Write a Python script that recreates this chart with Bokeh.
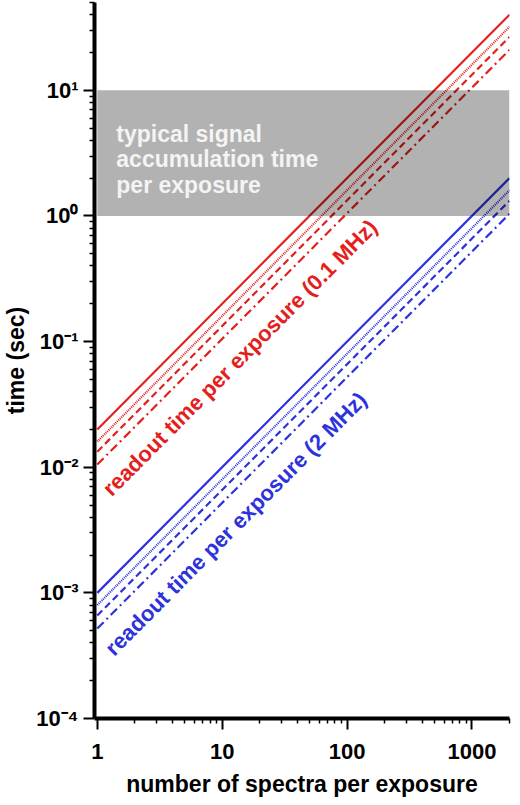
import math
from bokeh.plotting import figure
from bokeh.models import Range1d, FixedTicker
from bokeh.core.properties import value
from bokeh.embed import file_html
from bokeh.resources import INLINE

# ---- data ----
n_spectra = [1, 2000]                      # number of spectra per exposure (x endpoints)
red_solid = [0.02, 40.0]                   # readout time, 0.1 MHz
red_dotted = [0.016, 32.0]
red_dashed = [0.0133, 26.6]
red_dashdot = [0.0105, 21.0]
blue_solid = [0.001, 2.0]                  # readout time, 2 MHz
blue_dotted = [0.0008, 1.6]
blue_dashed = [0.00066, 1.32]
blue_dashdot = [0.00052, 1.04]

band_x = [1, 2000]                         # typical signal accumulation band
band_y = [1, 10]

x_ticks = [1, 10, 100, 1000]
x_labels = ["1", "10", "100", "1000"]
y_ticks = [1e-4, 1e-3, 1e-2, 1e-1, 1, 10]
y_labels = ["10\u207b\u2074", "10\u207b\u00b3", "10\u207b\u00b2", "10\u207b\u00b9", "10\u2070", "10\u00b9"]

band_text = ["typical signal", "accumulation time", "per exposure"]
red_label = "readout time per exposure (0.1 MHz)"
blue_label = "readout time per exposure (2 MHz)"

RED = "#e3201c"
BLUE = "#2c32dc"
FONT = "Liberation Sans"

X0, X1 = 0.95, 2000
Y0, Y1 = 1e-4, 50
FW, FH = 415, 716
angle = math.degrees(math.atan((FH / math.log10(Y1 / Y0)) / (FW / math.log10(X1 / X0))))

p = figure(frame_width=FW, frame_height=FH, x_axis_type="log", y_axis_type="log",
           x_range=Range1d(X0, X1), y_range=Range1d(Y0, Y1),
           output_backend="svg", toolbar_location=None,
           min_border_left=87, min_border_right=2, min_border_top=2, min_border_bottom=86)
p.outline_line_color = None
p.grid.visible = False
p.background_fill_color = "white"

styles = [None, "1 1", "7 4", "9 4 2 4"]
for ys, dash in zip([red_solid, red_dotted, red_dashed, red_dashdot], styles):
    p.line(n_spectra, ys, line_color=RED, line_width=2.2,
           line_dash=dash if dash else "solid")
for ys, dash in zip([blue_solid, blue_dotted, blue_dashed, blue_dashdot], styles):
    p.line(n_spectra, ys, line_color=BLUE, line_width=2.2,
           line_dash=dash if dash else "solid")

# translucent band on top of the lines
p.quad(left=band_x[0], right=band_x[1], bottom=band_y[0], top=band_y[1],
       fill_color="black", fill_alpha=0.3, line_color=None)

p.text(x=[1.42, 1.42, 1.42], y=[4.5, 2.82, 1.77], text=band_text,
       text_color="#f4f4f4", text_font=value(FONT), text_font_style="bold",
       text_font_size="23px", text_align="left", text_baseline="alphabetic")

p.text(x=[13.9], y=[0.0745], text=[red_label], angle=angle, angle_units="deg",
       text_color=RED, text_font=value(FONT), text_font_style="bold",
       text_font_size="22px", text_align="center", text_baseline="middle")
p.text(x=[12.9], y=[0.00355], text=[blue_label], angle=angle, angle_units="deg",
       text_color=BLUE, text_font=value(FONT), text_font_style="bold",
       text_font_size="22px", text_align="center", text_baseline="middle")

# axes
x_minor = [m * 10 ** e for e in range(0, 4) for m in range(2, 10) if m * 10 ** e <= 2000]
y_minor = [m * 10.0 ** e for e in range(-4, 2) for m in range(2, 10) if m * 10.0 ** e <= 50]
p.xaxis.ticker = FixedTicker(ticks=x_ticks, minor_ticks=x_minor)
p.yaxis.ticker = FixedTicker(ticks=y_ticks, minor_ticks=y_minor)
p.xaxis.major_label_overrides = dict(zip(x_ticks, x_labels))
p.yaxis.major_label_overrides = dict(zip(y_ticks, y_labels))

p.xaxis.axis_label = "number of spectra per exposure"
p.yaxis.axis_label = "time (sec)"

for ax in (p.xaxis[0], p.yaxis[0]):
    ax.axis_line_width = 4
    ax.axis_line_color = "black"
    ax.major_tick_line_width = 2
    ax.minor_tick_line_width = 1.5
    ax.major_tick_in = 0
    ax.major_tick_out = 11
    ax.minor_tick_in = 0
    ax.minor_tick_out = 5
    ax.major_label_text_font = FONT
    ax.major_label_text_font_style = "bold"
    ax.major_label_text_font_size = "22px"
    ax.major_label_text_color = "black"
    ax.axis_label_text_font = FONT
    ax.axis_label_text_font_style = "bold"
    ax.axis_label_text_font_size = "23px"
    ax.axis_label_text_color = "black"
    ax.major_label_standoff = 5
    ax.axis_label_standoff = 4

p.xaxis.major_label_standoff = 14
p.xaxis.axis_label_standoff = 9
p.yaxis.major_label_orientation = "horizontal"

open("out.html", "w").write(file_html(p, INLINE))
